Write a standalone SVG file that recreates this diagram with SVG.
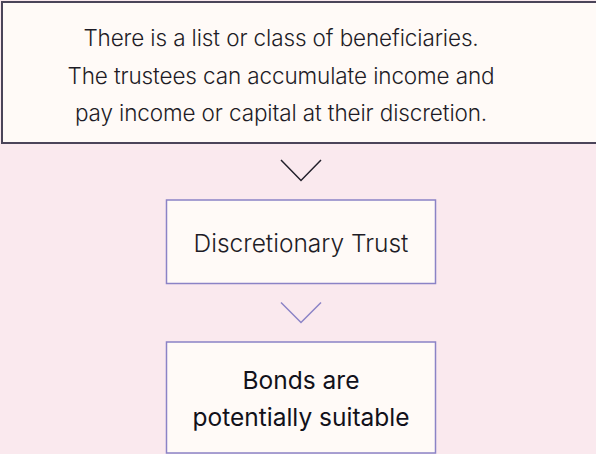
<svg xmlns="http://www.w3.org/2000/svg" width="596" height="454" viewBox="0 0 596 454">
  <style>
    .bg { fill: #fae9ee; }
    .box { fill: #fffaf7; }
    .top { stroke: #4b4459; stroke-width: 2; }
    .step { stroke: #8b83c6; stroke-width: 1.5; }
    .t { font-family: Inter, "Noto Sans", sans-serif; text-anchor: middle; }
    .light { font-weight: 300; fill: #1e1c26; }
    .lead { font-size: 22.5px; letter-spacing: -0.12px; }
    .reg { font-weight: 400; fill: #12111a; font-size: 24.5px; }
    .chev { fill: none; stroke-width: 1.5; }
  </style>
  <rect class="bg" x="0" y="0" width="596" height="454"/>

  <g id="node-criteria">
    <rect class="box top" x="2" y="2" width="610" height="141"/>
    <text class="t light lead" x="281" y="46">There is a list or class of beneficiaries.</text>
    <text class="t light lead" x="281" y="83.5">The trustees can accumulate income and</text>
    <text class="t light lead" x="281" y="121">pay income or capital at their discretion.</text>
  </g>

  <g id="connectors">
    <polyline class="chev" stroke="#22202b" points="281,160 301,180.5 321,160"/>
    <polyline class="chev" stroke="#8b83c6" points="281,302.5 301,322.5 321,302.5"/>
  </g>

  <g id="node-trust">
    <rect class="box step" x="166.5" y="200" width="269" height="83.5"/>
    <text class="t light" font-size="24.5" x="301" y="252">Discretionary Trust</text>
  </g>

  <g id="node-result">
    <rect class="box step" x="166.5" y="342" width="269" height="111"/>
    <text class="t reg" x="301" y="389">Bonds are</text>
    <text class="t reg" x="301" y="426">potentially suitable</text>
  </g>
</svg>
